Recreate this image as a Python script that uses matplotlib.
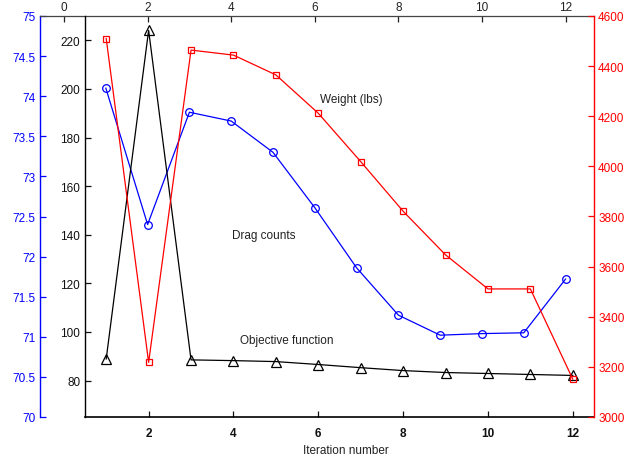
import matplotlib
matplotlib.use('Agg')
import matplotlib.pyplot as plt
import numpy as np

plt.rcParams['font.family'] = ['Liberation Sans', 'DejaVu Sans']

# ---- data ----
iterations = [1, 2, 3, 4, 5, 6, 7, 8, 9, 10, 11, 12]
drag_counts = [74.10, 72.40, 73.80, 73.69, 73.30, 72.61, 71.86, 71.27, 71.02, 71.04, 71.05, 71.72]
objective = [88.9, 224.1, 88.5, 88.2, 87.8, 86.6, 85.3, 84.1, 83.3, 82.9, 82.5, 82.1]
weight = [4510, 3218, 4464, 4444, 4365, 4212, 4019, 3821, 3647, 3511, 3511, 3151]

top_ticks = [0, 2, 4, 6, 8, 10, 12]
bottom_ticks = [2, 4, 6, 8, 10, 12]
blue_ticks = [70, 70.5, 71, 71.5, 72, 72.5, 73, 73.5, 74, 74.5, 75]
black_ticks = [80, 100, 120, 140, 160, 180, 200, 220]
red_ticks = [3000, 3200, 3400, 3600, 3800, 4000, 4200, 4400, 4600]

FS = 8.5
W, H = 632, 460
fig = plt.figure(figsize=(W / 100, H / 100), dpi=100)

# outer axis (blue drag counts, top x axis)
ax_b = fig.add_axes([40 / W, 42 / H, 554 / W, 401 / H])
ax_b.plot(iterations, drag_counts, color='blue', lw=0.9, marker='o', ms=5.5,
          mfc='none', mec='blue', mew=0.9)
ax_b.set_xlim(-0.575, 12.68)
ax_b.set_ylim(70, 75)
ax_b.set_xticks(top_ticks)
ax_b.set_yticks(blue_ticks)
ax_b.set_yticklabels(['%g' % v for v in blue_ticks])
ax_b.xaxis.tick_top()
ax_b.spines['right'].set_visible(False)
ax_b.spines['bottom'].set_visible(False)
ax_b.spines['left'].set_color('blue')
ax_b.spines['left'].set_linewidth(1.0)
ax_b.spines['top'].set_color('#444444')
ax_b.spines['top'].set_linewidth(0.9)
ax_b.tick_params(axis='y', direction='in', colors='blue', length=4, width=0.9,
                 labelsize=FS, pad=3)
ax_b.tick_params(axis='x', direction='in', colors='#222222', length=4, width=0.9,
                 labelsize=FS, pad=2, top=True, bottom=False, labeltop=True,
                 labelbottom=False)

# main axis (objective function, bottom x axis)
ax = fig.add_axes([85 / W, 42 / H, 509 / W, 401 / H])
ax.patch.set_visible(False)
ax.plot(iterations, objective, color='black', lw=0.9, marker='^', ms=6.5,
        mfc='none', mec='black', mew=0.9)
ax.set_xlim(0.5, 12.5)
ax.set_ylim(65, 230)
ax.set_xticks(bottom_ticks)
ax.set_yticks(black_ticks)
ax.spines['top'].set_visible(False)
ax.spines['right'].set_visible(False)
ax.spines['left'].set_linewidth(1.0)
ax.spines['bottom'].set_linewidth(1.2)
ax.tick_params(axis='both', direction='in', length=4, width=0.9, labelsize=FS,
               colors='#111111')
ax.tick_params(axis='x', pad=7)
for lab in ax.get_xticklabels():
    lab.set_fontweight('bold')

ax.text(6.05, 196, 'Weight (lbs)', fontsize=FS, ha='left', va='center', color='#222222')
ax.text(3.97, 140, 'Drag counts', fontsize=FS, ha='left', va='center', color='#222222')
ax.text(4.16, 96.7, 'Objective function', fontsize=FS, ha='left', va='center', color='#222222')

# right red axis (weight)
ax_r = ax.twinx()
ax_r.plot(iterations, weight, color='red', lw=0.9, marker='s', ms=5,
          mfc='none', mec='red', mew=0.9)
ax_r.set_ylim(3000, 4600)
ax_r.set_yticks(red_ticks)
for s in ['top', 'left', 'bottom']:
    ax_r.spines[s].set_visible(False)
ax_r.spines['right'].set_color('red')
ax_r.spines['right'].set_linewidth(1.0)
ax_r.tick_params(axis='y', direction='in', colors='red', length=4, width=0.9,
                 labelsize=FS, pad=3)

fig.text(346 / W, 1 - 451 / H, 'Iteration number', fontsize=FS, ha='center',
         va='center', color='#222222')

fig.savefig('out.png', dpi=100)
